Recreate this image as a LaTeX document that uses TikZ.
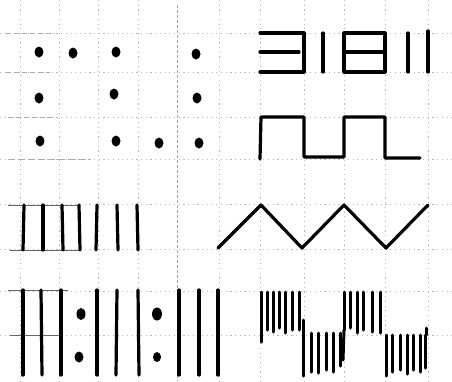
\documentclass[tikz,border=0pt]{standalone}
\begin{document}
\begin{tikzpicture}[x=1pt,y=-1pt,
  gridline/.style={gray!55, line width=0.7pt, dash pattern=on 1.2pt off 3.5pt},
  rule/.style={gray!80!black, line width=0.9pt},
  ink/.style={black, line width=3.2pt, line cap=round, line join=round},
  hatch/.style={black, line width=3pt, line cap=round},
  blob/.style={fill=black}]
\useasboundingbox (0,0) rectangle (452,381);
\fill[white] (0,0) rectangle (452,381);
% grid
\foreach \x in {20,59,98,138,219,260,304,344,385,428}
  \draw[gridline] (\x,0) -- (\x,381);
\foreach \y in {33,72,117,159,204,249,291,335}
  \draw[gridline] (0,\y) -- (452,\y);
\draw[gray!70, line width=0.9pt, dash pattern=on 2.5pt off 2.5pt] (177,5) -- (177,381);
% darker ruled segments at left
\draw[rule, gray!65, dash pattern=on 5pt off 3pt] (6,33) -- (55,33);
\draw[rule, gray!65, dash pattern=on 5pt off 3pt] (6,72) -- (50,72);
\draw[rule, gray!65, dash pattern=on 5pt off 3pt] (8,117) -- (55,117);
\draw[rule, gray!65, dash pattern=on 7pt off 3pt] (8,159) -- (90,159);
\draw[rule] (8,205) -- (80,205);
\draw[rule] (10,250) -- (80,250);
\draw[rule] (8,290) -- (68,290);
\draw[rule] (10,335) -- (62,335);
% dots
\foreach \p in {(39,52),(73,53),(116,52),(196,54),
                (39,98),(114,94),(197,98),
                (40,141),(116,141),(159,143),(199,143)}
  \fill[blob] \p ellipse (4.5 and 5.5);
\fill[blob] (81,314) ellipse (4.5 and 6);
\fill[blob] (79,357) ellipse (4.5 and 5.5);
\fill[blob] (157,314) ellipse (5 and 6.5);
\fill[blob] (157,357) ellipse (4 and 5);
% top right symbols
\draw[ink] (260,33) -- (304,33) -- (304,72) -- (260,72);
\draw[ink] (260,52) -- (299,52);
\draw[ink] (323,33) -- (323,72);
\draw[ink] (344,33) rectangle (385,72);
\draw[ink] (344,52) -- (385,52);
\draw[ink] (408,33) -- (408,72);
\draw[ink] (428,31) -- (428,72);
% square wave
\draw[ink] (260,159) -- (261,117) -- (304,117) -- (304,157) -- (344,157)
  -- (344,117) -- (385,117) -- (385,158) -- (420,158);
% bars, upper row bottom-left
\foreach \x/\d in {24/-1,43/0,62/1,79/1,97/-1,117/1,137/1}
  \draw[ink] (\x,205) -- (\x+\d,250);
% triangle wave
\draw[ink] (218,248) -- (261,205) -- (302,248) -- (344,205) -- (386,248) -- (428,205);
% long bars bottom
\foreach \x/\d in {23/0,41/1,61/0,97/0,117/-1,138/1,179/0,199/0,218/0}
  \draw[ink] (\x,290) -- (\x+\d,375);
% hatched blocks
\foreach \x/\b in {261/342,267/330,273/332,279/328,285/333,292/330,299/330}
  \draw[hatch] (\x,292) -- (\x,\b);
\foreach \x/\b in {303/376,311/372,318/373,326/370,333/372,340/366}
  \draw[hatch] (\x,333) -- (\x,\b);
\draw[hatch] (303,333) -- (303,320);
\foreach \x/\b in {344/330,350/328,357/333,363/330,372/332,380/333}
  \draw[hatch] (\x,292) -- (\x,\b);
\draw[hatch] (344,330) -- (343,360);
\foreach \x/\b in {386/376,392/372,400/370,407/374,413/370,420/372,425/368}
  \draw[hatch] (\x,335) -- (\x,\b);
\draw[hatch] (426,335) -- (426,328);
\end{tikzpicture}
\end{document}
